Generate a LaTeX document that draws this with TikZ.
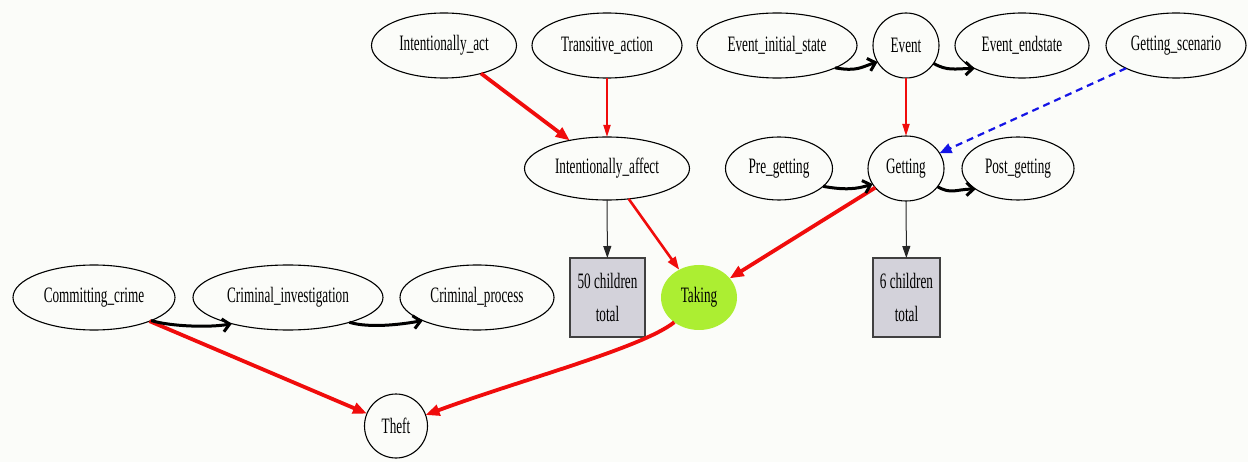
\documentclass[tikz,border=0pt]{standalone}
\usepackage{fontspec}
\setmainfont[FakeStretch=0.6]{Liberation Serif}
\usetikzlibrary{shapes.geometric,arrows.meta}
\definecolor{bg}{RGB}{251,252,249}
\definecolor{takegreen}{RGB}{172,238,50}
\definecolor{boxgray}{RGB}{211,210,218}
\definecolor{edgered}{RGB}{240,12,12}
\definecolor{edgeblue}{RGB}{20,20,230}
\begin{document}
\begin{tikzpicture}[x=1pt,y=-1pt,
  every node/.style={font=\fontsize{22}{26}\selectfont, inner sep=0pt, outer sep=0pt},
  ell/.style={ellipse, draw, line width=1.1pt, minimum width=#1, minimum height=65pt},
  cbox/.style={rectangle, draw=black!75, line width=1.3pt, fill=boxgray, minimum width=#1, minimum height=79pt, align=center},
  redthick/.style={draw=edgered, line width=3.8pt, -{Triangle[length=14pt,width=11pt]}},
  redmid/.style={draw=edgered, line width=2.6pt, -{Triangle[length=13pt,width=9pt]}},
  redthin/.style={draw=edgered, line width=1.8pt, -{Triangle[length=12pt,width=7pt]}},
  blkthin/.style={draw=black!85, line width=1pt, -{Triangle[length=12pt,width=8pt]}},
  blkcurve/.style={draw=black, line width=3pt, -{Straight Barb[length=7pt,width=13pt]}},
  bluedash/.style={draw=edgeblue, line width=2.2pt, dash pattern=on 7pt off 5pt, -{Triangle[length=12pt,width=10pt]}}
]
\useasboundingbox[fill=bg] (0,0) rectangle (1248,462);

% top row
\node[ell=145pt] (iact) at (444,45.5) {Intentionally\_act};
\node[ell=150pt] (tact) at (607,45.5) {Transitive\_action};
\node[ell=160pt] (eis) at (777,45.5) {Event\_initial\_state};
\node[ell=66pt] (event) at (906,45.5) {Event};
\node[ell=134pt] (ees) at (1022,45.5) {Event\_endstate};
\node[ell=140pt] (gs) at (1176,45.5) {Getting\_scenario};
% second row
\node[ell=165pt, minimum height=63pt] (iaff) at (607,168.5) {Intentionally\_affect};
\node[ell=107pt, minimum height=63pt] (pre) at (779,168.5) {Pre\_getting};
\node[ell=76pt, minimum height=65pt] (get) at (906,168.5) {Getting};
\node[ell=112pt, minimum height=63pt] (post) at (1018,168.5) {Post\_getting};
% third row
\node[ell=162pt] (cc) at (94,297.5) {Committing\_crime};
\node[ell=190pt] (ci) at (288,297.5) {Criminal\_investigation};
\node[ell=154pt] (cp) at (477,297.5) {Criminal\_process};
\node[cbox=75pt] (c50) at (607.5,297.5) {50 children\\[7pt]total};
\node[ellipse, fill=takegreen, minimum width=76pt, minimum height=65pt] (take) at (699,297.5) {Taking};
\node[cbox=67pt] (c6) at (906.5,297.5) {6 children\\[7pt]total};
% bottom
\node[ell=63pt, minimum height=64pt] (theft) at (396,426) {Theft};

% edges
\draw[redthick] (iact) -- (iaff);
\draw[redthin] (tact) -- (iaff);
\draw[blkthin] (iaff) -- (c50);
\draw[redmid] (iaff) -- (take);
\draw[redthick] (get) -- (take);
\draw[redthick] (take.225) .. controls (642,348) and (520,380) .. (theft);
\draw[redthick] (cc) -- (theft);
\draw[blkcurve] (cc.-22) .. controls +(20,6) and +(-22,4) .. (ci.205);
\draw[blkcurve] (ci.-22) .. controls +(20,6) and +(-22,4) .. (cp.203);
\draw[blkcurve] (eis.-21) .. controls +(22,4) and +(-16,5) .. (event.210);
\draw[blkcurve] (event.-33) .. controls +(14,8) and +(-20,0) .. (ees.206);
\draw[redthin] (event) -- (get);
\draw[bluedash] (gs) -- (get);
\draw[blkcurve] (pre.-22) .. controls +(22,4) and +(-16,5) .. (get.205);
\draw[blkcurve] (get.-30) .. controls +(14,8) and +(-20,0) .. (post.206);
\draw[blkthin] (get) -- (c6);
\end{tikzpicture}
\end{document}
